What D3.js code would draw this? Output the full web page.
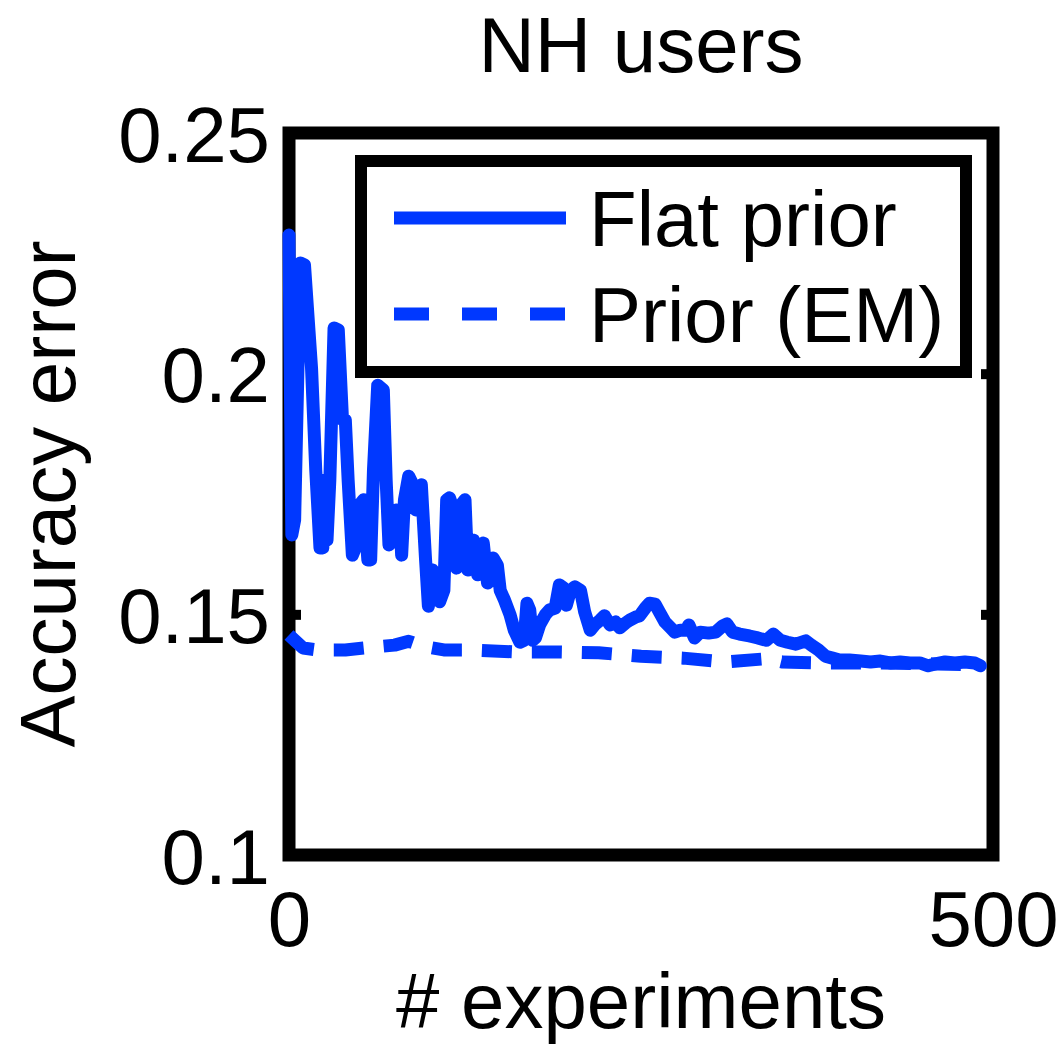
<!DOCTYPE html>
<html>
<head>
<meta charset="utf-8">
<title>NH users</title>
<script src="https://cdn.jsdelivr.net/npm/d3@7"></script>
<style>
  body { margin: 0; background: #fff; }
  svg text { font-family: "Liberation Sans", Arial, Helvetica, sans-serif; fill: #000; }
</style>
</head>
<body>
<div id="chart"></div>
<script>

//------------------------------------------------------------------------------

const dLog = console.debug;

/** # experiments, for the Flat prior curve. */
const flatX = [
  0, 2, 4, 8, 11, 16, 19, 22, 24, 26, 27, 29, 32, 35, 38, 40, 42, 45, 48, 50,
  53, 56, 58, 60, 63, 67, 69, 71, 74, 76, 79, 80, 82, 85, 87, 90, 91, 94, 97, 99,
  102, 104, 107, 110, 112, 114, 117, 119, 122, 125, 127, 131, 134, 138, 141, 145, 148, 150, 153, 157,
  160, 164, 167, 169, 171, 173, 175, 178, 182, 185, 189, 192, 195, 197, 200, 203, 207, 210, 214, 217,
  221, 224, 228, 232, 235, 239, 242, 246, 249, 253, 256, 260, 263, 267, 271, 274, 278, 282, 284, 288,
  292, 298, 303, 308, 311, 315, 320, 327, 333, 339, 344, 349, 354, 360, 367, 371, 376, 381, 386, 391,
  398, 406, 413, 420, 427, 434, 441, 448, 454, 459, 466, 473, 480, 487, 491
];
/** accuracy error, Flat prior */
const flatY = [
  0.2288, 0.1665, 0.1696, 0.2230, 0.2226, 0.2012, 0.1800, 0.1638, 0.1638, 0.1779, 0.1654, 0.1779, 0.2095, 0.2091, 0.1904, 0.1904, 0.1779, 0.1623, 0.1644, 0.1727,
  0.1738, 0.1613, 0.1613, 0.1800, 0.1976, 0.1966, 0.1779, 0.1644, 0.1654, 0.1717, 0.1686, 0.1623, 0.1738, 0.1787, 0.1775, 0.1717, 0.1738, 0.1769, 0.1613, 0.1517,
  0.1592, 0.1582, 0.1526, 0.1550, 0.1738, 0.1742, 0.1717, 0.1596, 0.1727, 0.1738, 0.1592, 0.1654, 0.1582, 0.1648, 0.1565, 0.1617, 0.1602, 0.1550, 0.1530, 0.1499,
  0.1467, 0.1442, 0.1446, 0.1523, 0.1509, 0.1446, 0.1451, 0.1478, 0.1499, 0.1509, 0.1513, 0.1561, 0.1555, 0.1519, 0.1550, 0.1557, 0.1550, 0.1505, 0.1467, 0.1478,
  0.1488, 0.1497, 0.1478, 0.1484, 0.1472, 0.1482, 0.1488, 0.1494, 0.1497, 0.1513, 0.1523, 0.1521, 0.1505, 0.1484, 0.1472, 0.1463, 0.1467, 0.1467, 0.1478, 0.1451,
  0.1463, 0.1461, 0.1463, 0.1476, 0.1480, 0.1463, 0.1459, 0.1455, 0.1451, 0.1446, 0.1459, 0.1446, 0.1442, 0.1438, 0.1445, 0.1436, 0.1426, 0.1413, 0.1409, 0.1405,
  0.1405, 0.1403, 0.1401, 0.1403, 0.1399, 0.1401, 0.1399, 0.1399, 0.1393, 0.1397, 0.1401, 0.1399, 0.1401, 0.1399, 0.1393
];

/** # experiments, Prior (EM) curve */
const emX = [0, 4, 10, 20, 40, 60, 75, 85, 95, 110, 130, 160, 190, 220, 250, 280, 310, 340, 350, 380, 420, 460, 490];
/** accuracy error, Prior (EM) */
const emY = [
  0.1457, 0.1446, 0.1430, 0.1426, 0.1426, 0.1432, 0.1436, 0.1444, 0.1434, 0.1426, 0.1426, 0.1422,
  0.1422, 0.1420, 0.1413, 0.1409, 0.1401, 0.1408, 0.1401, 0.1399, 0.1399, 0.1397, 0.1395
];

const xDomain = [0, 500];
const yDomain = [0.1, 0.25];
const xTicks = [0, 500];
const yTicks = [0.1, 0.15, 0.2, 0.25];
const seriesNames = ['Flat prior', 'Prior (EM)'];

const title = 'NH users';
const xLabel = '# experiments';
const yLabel = 'Accuracy error';

//------------------------------------------------------------------------------

const
width = 1059,
height = 1044,
/** plot frame, centre of the thick box stroke */
frame = {left: 289, top: 133, right: 993, bottom: 855},
fontSize = 78,
blue = '#0038ff',
lineWidth = 13,
boxWidth = 13;

const
x = d3.scaleLinear().domain(xDomain).range([frame.left, frame.right]),
y = d3.scaleLinear().domain(yDomain).range([frame.bottom, frame.top]);

const svg = d3.select('#chart')
  .append('svg')
  .attr('width', width)
  .attr('height', height);

const line = d3.line()
  .x(d => x(d[0]))
  .y(d => y(d[1]));

const
flatData = flatX.map((v, i) => [v, flatY[i]]),
emData = emX.map((v, i) => [v, emY[i]]);

// frame box : drawn first, the curves sit on top of it.
svg.append('rect')
  .attr('x', frame.left)
  .attr('y', frame.top)
  .attr('width', frame.right - frame.left)
  .attr('height', frame.bottom - frame.top)
  .attr('fill', 'none')
  .attr('stroke', '#000')
  .attr('stroke-width', boxWidth);

// inward tick marks, both sides
const tickMarks = (g) => g.call(gg => gg.select('.domain').remove())
  .call(gg => gg.selectAll('.tick line').attr('stroke', '#000').attr('stroke-width', 10))
  .call(gg => gg.selectAll('.tick text').remove());

svg.append('g')
  .attr('transform', `translate(${frame.left},0)`)
  .call(d3.axisLeft(y).tickValues(yTicks).tickSize(-12))
  .call(tickMarks);
svg.append('g')
  .attr('transform', `translate(${frame.right},0)`)
  .call(d3.axisRight(y).tickValues(yTicks).tickSize(-12))
  .call(tickMarks);

// curves
svg.append('path')
  .datum(emData)
  .attr('class', 'em')
  .attr('d', line)
  .attr('fill', 'none')
  .attr('stroke', blue)
  .attr('stroke-width', lineWidth)
  .attr('stroke-linejoin', 'round')
  .attr('stroke-dasharray', '30,20');

svg.append('path')
  .datum(flatData)
  .attr('class', 'flat')
  .attr('d', line)
  .attr('fill', 'none')
  .attr('stroke', blue)
  .attr('stroke-width', lineWidth)
  .attr('stroke-linejoin', 'round')
  .attr('stroke-linecap', 'round');

// tick labels
const yAxis = svg.append('g')
  .attr('transform', `translate(${frame.left},0)`)
  .call(d3.axisLeft(y).tickValues(yTicks).tickSize(0).tickPadding(19).tickFormat(d3.format('')));
yAxis.select('.domain').remove();
yAxis.selectAll('text')
  .attr('font-size', fontSize)
  .attr('dy', '0.36em')
  .attr('fill', '#000');

const xAxis = svg.append('g')
  .attr('transform', `translate(0,${frame.bottom})`)
  .call(d3.axisBottom(x).tickValues(xTicks).tickSize(0).tickPadding(36).tickFormat(d3.format('d')));
xAxis.select('.domain').remove();
xAxis.selectAll('text')
  .attr('font-size', fontSize)
  .attr('fill', '#000');
xAxis.attr('font-family', null);
yAxis.attr('font-family', null);

// titles
const midX = (frame.left + frame.right) / 2;
svg.append('text')
  .attr('x', midX)
  .attr('y', 72)
  .attr('text-anchor', 'middle')
  .attr('font-size', fontSize)
  .text(title);

svg.append('text')
  .attr('x', midX)
  .attr('y', 1028)
  .attr('text-anchor', 'middle')
  .attr('font-size', fontSize)
  .text(xLabel);

svg.append('text')
  .attr('transform', `translate(75,${(frame.top + frame.bottom) / 2}) rotate(-90)`)
  .attr('text-anchor', 'middle')
  .attr('font-size', fontSize)
  .text(yLabel);

//------------------------------------------------------------------------------
// legend

const
legend = {left: 361, top: 161, right: 966, bottom: 372},
legendRowY = [218, 314],
legendLineX = [394, 566],
legendTextX = 589;

const gL = svg.append('g').attr('class', 'legend');
gL.append('rect')
  .attr('x', legend.left)
  .attr('y', legend.top)
  .attr('width', legend.right - legend.left)
  .attr('height', legend.bottom - legend.top)
  .attr('fill', '#fff')
  .attr('stroke', '#000')
  .attr('stroke-width', boxWidth - 1);

const rows = gL.selectAll('g.row')
  .data(seriesNames)
  .enter()
  .append('g')
  .attr('class', 'row')
  .attr('transform', (d, i) => `translate(0,${legendRowY[i]})`);

rows.append('line')
  .attr('x1', legendLineX[0])
  .attr('x2', legendLineX[1])
  .attr('stroke', blue)
  .attr('stroke-width', lineWidth)
  .attr('stroke-dasharray', (d, i) => i ? '35,33' : null);

rows.append('text')
  .attr('x', legendTextX)
  .attr('dy', '0.36em')
  .attr('font-size', fontSize)
  .text(d => d);

dLog('rendered', flatData.length, emData.length);

</script>
</body>
</html>
